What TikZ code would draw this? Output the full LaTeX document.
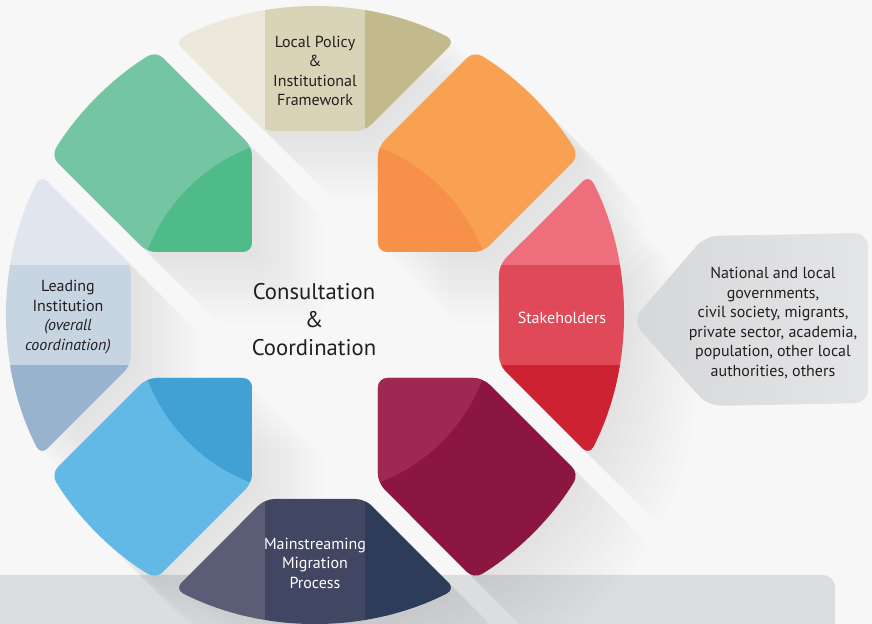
\documentclass[tikz,border=0pt]{standalone}
\usepackage{fontspec}
\setmainfont{PT Sans}
\usepackage{tikz}
\usetikzlibrary{positioning}

\definecolor{bgcol}{HTML}{F7F7F7}
\definecolor{bandcol}{HTML}{DCDDDF}
\definecolor{labeltext}{HTML}{231F20}
\definecolor{policyL}{HTML}{ECE8DC}
\definecolor{policyM}{HTML}{D9D4B7}
\definecolor{policyR}{HTML}{C2BA8C}
\definecolor{leadT}{HTML}{DFE6EE}
\definecolor{leadM}{HTML}{C7D5E3}
\definecolor{leadB}{HTML}{97B3CD}
\definecolor{stakeT}{HTML}{EE6F7B}
\definecolor{stakeM}{HTML}{E04A58}
\definecolor{stakeB}{HTML}{CC2232}
\definecolor{mainL}{HTML}{5B5C75}
\definecolor{mainM}{HTML}{414762}
\definecolor{mainR}{HTML}{2D3C58}
\definecolor{orangeMain}{HTML}{F8A152}
\definecolor{orangeCorner}{HTML}{F7914A}
\definecolor{greenMain}{HTML}{74C6A2}
\definecolor{greenCorner}{HTML}{4FBB89}
\definecolor{blueMain}{HTML}{62B9E5}
\definecolor{blueCorner}{HTML}{41A0D4}
\definecolor{wineMain}{HTML}{8B1740}
\definecolor{wineCorner}{HTML}{9F2754}
\definecolor{calloutL}{HTML}{D6D7D9}
\definecolor{calloutR}{HTML}{E4E5E7}

\tikzset{
  seglabel/.style={align=center, font=\fontsize{12}{14.6}\selectfont, text=labeltext},
  whitelabel/.style={seglabel, text=white},
  centrelabel/.style={align=center, font=\fontsize{17}{21}\selectfont, text=labeltext},
  segshade/.style={fill=black, fill opacity=0.009}
}

% wheel pieces, drawn upright (cardinal) or at 45 degrees (diagonal)
\newcommand{\cardshape}[1]{\path[#1] (-50,184) -- (50,184) -- (62.92:308)
  arc[start angle=62.92, end angle=117.08, radius=308] -- cycle;}
\newcommand{\diagshape}[1]{\path[#1] (63,63) -- (168,63) -- (31.05:308)
  arc[start angle=31.05, end angle=58.95, radius=308] -- (63,168) -- cycle;}

\newcommand{\cardseg}[4]{%
  \begin{scope}[rotate=#1]
    \cardshape{clip, rounded corners=7}
    \fill[#2] (-320,150) rectangle (-50,320);
    \fill[#3] (-50,150) rectangle (50,320);
    \fill[#4] (50,150) rectangle (320,320);
  \end{scope}}
\newcommand{\diagseg}[3]{%
  \begin{scope}[rotate=#1]
    \diagshape{clip, rounded corners=7}
    \fill[#2] (0,0) rectangle (320,320);
    \fill[#3] (0,0) circle[radius=179.4];
  \end{scope}}
\newcommand{\segshadow}[2]{%
  \foreach \k in {1,...,10}{%
    \begin{scope}[shift={(7*\k,-7*\k)}, rotate=#2]
      #1{segshade, rounded corners=7}
    \end{scope}}}

\begin{document}
\begin{tikzpicture}[x=0.75pt, y=0.75pt]
  \useasboundingbox[fill=bgcol] (-315,-309) rectangle (557,315);
  \fill[bandcol] (-315,-309) -- (-315,-260) -- (508,-260)
    arc[start angle=90, end angle=0, radius=12] -- (520,-309) -- cycle;

  % long shadows
  \foreach \r in {0,90,180,270}{%
    \segshadow{\cardshape}{\r}
    \segshadow{\diagshape}{\r}
  }

  \cardseg{0}{policyL}{policyM}{policyR}
  \cardseg{90}{leadB}{leadM}{leadT}
  \cardseg{180}{mainR}{mainM}{mainL}
  \cardseg{-90}{stakeT}{stakeM}{stakeB}
  \diagseg{0}{orangeMain}{orangeCorner}
  \diagseg{90}{greenMain}{greenCorner}
  \diagseg{180}{blueMain}{blueCorner}
  \diagseg{270}{wineMain}{wineCorner}

  \node[seglabel] (policy) at (0,244) {Local Policy\\\&\\Institutional\\Framework};
  \node[seglabel] (leading) at (-247,-2) {Leading\\Institution\\\textit{(overall}\\\textit{coordination)}};
  \node[whitelabel] (stake) at (247,-3) {Stakeholders};
  \node[whitelabel] (mainstream) at (0,-248) {Mainstreaming\\Migration\\Process};
  \node[centrelabel] (centre) at (-1,-5) {Consultation\\\&\\Coordination};

  \shade[left color=calloutL, right color=calloutR, rounded corners=10]
    (317,-6) -- (390,79) -- (553,82) -- (553,-88) -- (393,-91) -- cycle;
  \node[seglabel] (callout) at (458,-8) {National and local\\governments,\\civil society, migrants,\\private sector, academia,\\population, other local\\authorities, others};
\end{tikzpicture}
\end{document}
